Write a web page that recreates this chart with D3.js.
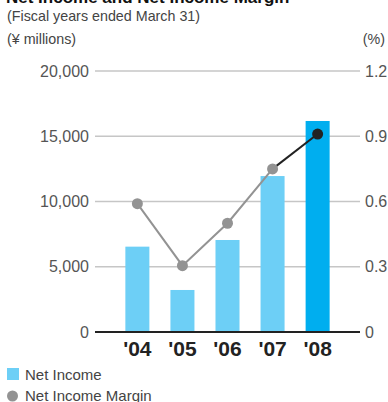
<!DOCTYPE html>
<html>
<head>
<meta charset="utf-8">
<script src="https://cdn.jsdelivr.net/npm/d3@7/dist/d3.min.js"></script>
<style>
  body { margin: 0; background: #fff; }
  text { font-family: "Liberation Sans", Arial, sans-serif; }
</style>
</head>
<body>
<svg></svg>
<script>
// Chart size
var width = 388;
var height = 402;

// Data
const years = ["'04", "'05", "'06", "'07", "'08"];
const netIncome = [6540, 3220, 7050, 11950, 16170];
const margin = [0.59, 0.305, 0.50, 0.75, 0.91];
const leftTicks = [0, 5000, 10000, 15000, 20000];
const rightTicks = [0, 0.3, 0.6, 0.9, 1.2];

var svg = d3.select("svg").attr("width", width).attr("height", height);

// Scales
let xScale = d3.scaleBand().domain(years).range([115, 340]).paddingInner(0.467).paddingOuter(0.23);
let yLeft = d3.scaleLinear().domain([0, 20000]).range([332, 71]);
let yRight = d3.scaleLinear().domain([0, 1.2]).range([332, 71]);

// Header texts
svg.append("text").attr("x", 6).attr("y", 3)
    .style("font-size", "17px").style("font-weight", "bold").attr("fill", "#111")
    .text("Net Income and Net Income Margin");

svg.append("text").attr("x", 7).attr("y", 21)
    .style("font-size", "14.3px").attr("fill", "#444")
    .text("(Fiscal years ended March 31)");

svg.append("text").attr("x", 7).attr("y", 44)
    .style("font-size", "14.3px").attr("fill", "#444")
    .text("(¥ millions)");

svg.append("text").attr("x", 385).attr("y", 44).attr("text-anchor", "end")
    .style("font-size", "14.3px").attr("fill", "#444")
    .text("(%)");

// Gridlines
svg.append("g").selectAll("line").data(leftTicks.slice(1)).enter()
    .append("line")
    .attr("x1", 95).attr("x2", 360)
    .attr("y1", d => yLeft(d)).attr("y2", d => yLeft(d))
    .attr("stroke", "#c6c6c6").attr("stroke-width", 1.5);

// Left axis labels
let leftAxis = d3.axisLeft(yLeft).tickValues(leftTicks).tickSize(0).tickPadding(6)
    .tickFormat(d3.format(","));
let gl = svg.append("g").attr("transform", "translate(95,0)").call(leftAxis);
gl.select(".domain").remove();
gl.selectAll("text").style("font-size", "16px").attr("fill", "#555")
    .style("font-family", "'Liberation Sans', Arial, sans-serif");

// Right axis labels
let rightAxis = d3.axisRight(yRight).tickValues(rightTicks).tickSize(0).tickPadding(5)
    .tickFormat(d => d === 0 ? "0" : d3.format(".1f")(d));
let gr = svg.append("g").attr("transform", "translate(360,0)").call(rightAxis);
gr.select(".domain").remove();
gr.selectAll("text").style("font-size", "16px").attr("fill", "#555")
    .style("font-family", "'Liberation Sans', Arial, sans-serif");

// Bars
svg.append("g").selectAll("rect").data(netIncome).enter()
    .append("rect")
    .attr("x", (d, i) => xScale(years[i]))
    .attr("y", d => yLeft(d))
    .attr("width", xScale.bandwidth())
    .attr("height", d => yLeft(0) - yLeft(d))
    .attr("fill", (d, i) => i === years.length - 1 ? "#00aeef" : "#6dcff6");

// Baseline
svg.append("line").attr("x1", 95).attr("x2", 360)
    .attr("y1", yLeft(0)).attr("y2", yLeft(0))
    .attr("stroke", "#222").attr("stroke-width", 2);

// X axis labels
let xAxis = d3.axisBottom(xScale).tickSize(0).tickPadding(9);
let gx = svg.append("g").attr("transform", "translate(0," + yLeft(0) + ")").call(xAxis);
gx.select(".domain").remove();
gx.selectAll("text").style("font-size", "21px").style("font-weight", "bold").attr("fill", "#222")
    .style("font-family", "'Liberation Sans', Arial, sans-serif");

// Margin line
let pts = margin.map((m, i) => ({ x: xScale(years[i]) + xScale.bandwidth() / 2, y: yRight(m), i: i }));
let line = d3.line().x(d => d.x).y(d => d.y);
let last = pts.length - 1;
svg.append("path").datum(pts.slice(0, last)).attr("d", line)
    .attr("fill", "none").attr("stroke", "#939393").attr("stroke-width", 2);
svg.append("path").datum(pts.slice(last - 1)).attr("d", line)
    .attr("fill", "none").attr("stroke", "#222").attr("stroke-width", 2);

svg.append("g").selectAll("circle").data(pts).enter()
    .append("circle")
    .attr("cx", d => d.x).attr("cy", d => d.y).attr("r", 5.5)
    .attr("fill", d => d.i === last ? "#222" : "#939393");

// Legend
svg.append("rect").attr("x", 7).attr("y", 368).attr("width", 12).attr("height", 12).attr("fill", "#6dcff6");
svg.append("text").attr("x", 25).attr("y", 380).style("font-size", "15px").attr("fill", "#444").text("Net Income");
svg.append("circle").attr("cx", 12.5).attr("cy", 396).attr("r", 5.5).attr("fill", "#939393");
svg.append("text").attr("x", 25).attr("y", 401).style("font-size", "15px").attr("fill", "#444").text("Net Income Margin");
</script>
</body>
</html>
